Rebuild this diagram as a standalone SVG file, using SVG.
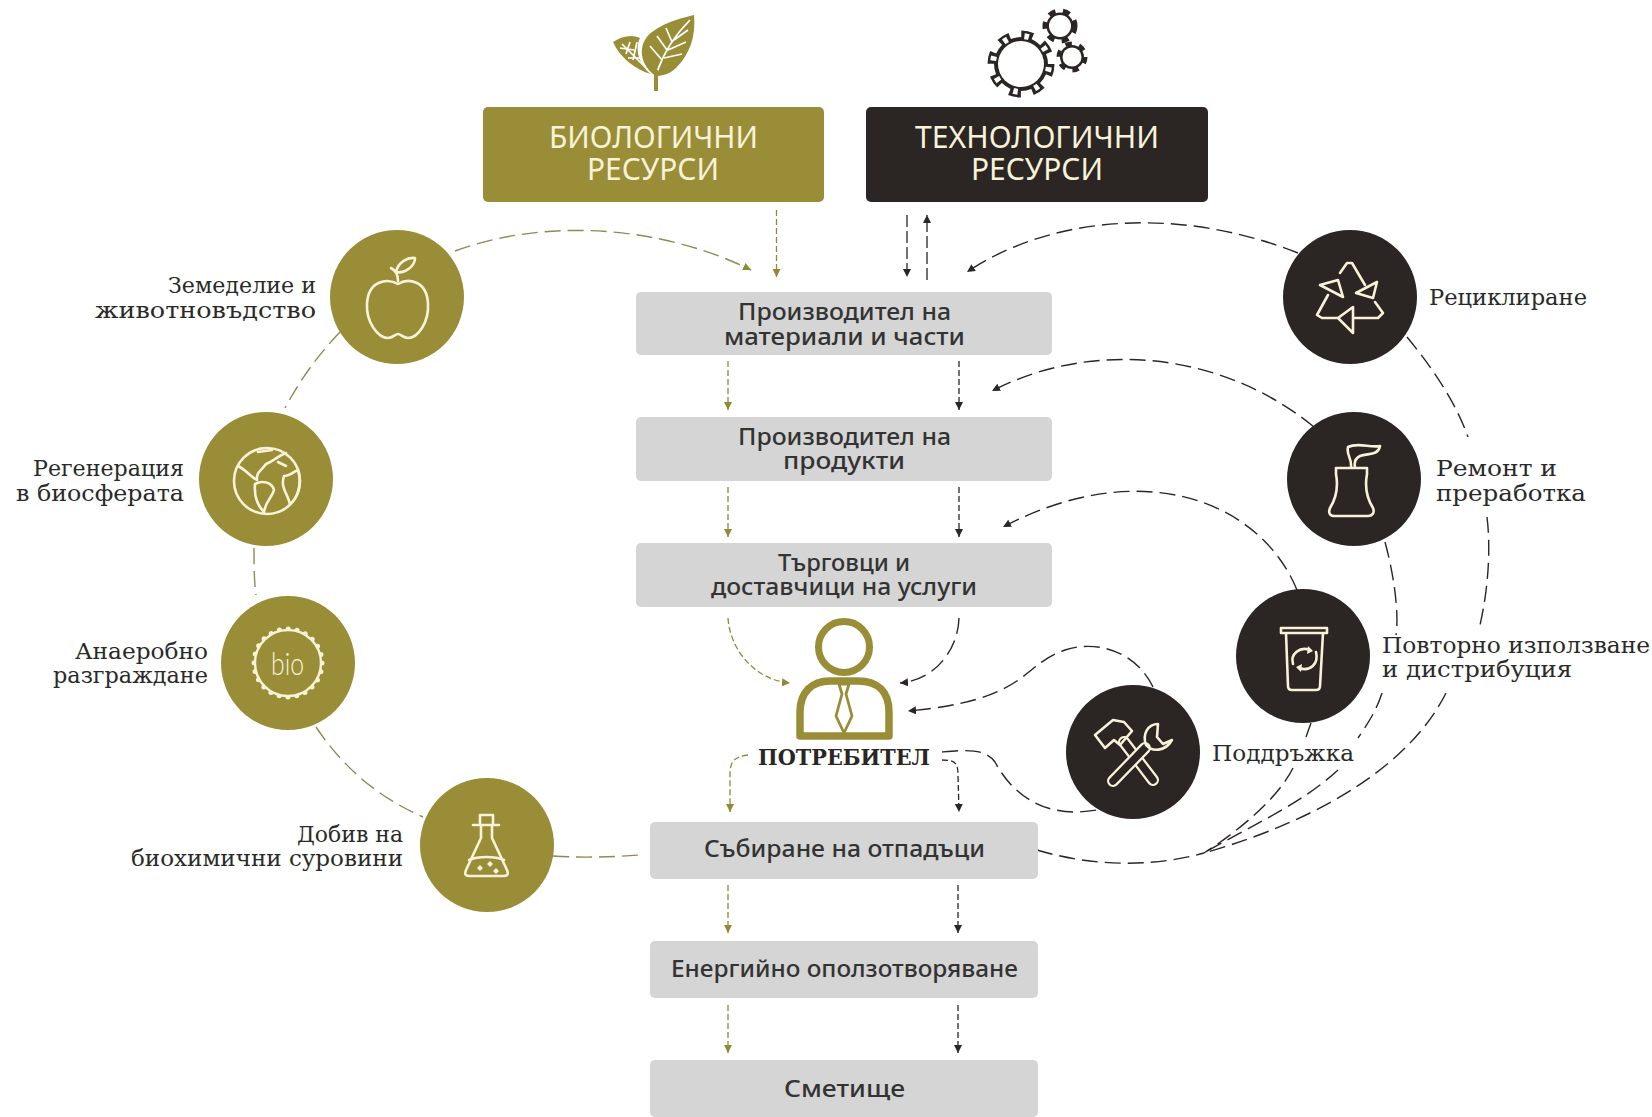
<svg xmlns="http://www.w3.org/2000/svg" width="1652" height="1117" viewBox="0 0 1652 1117" lang="bg">
<style>
.bg{fill:#fff}
.grey{fill:#d5d5d5}
.ol{fill:#9a8d37}
.dk{fill:#2b2523}
.head{font-family:"Noto Sans","Liberation Sans",sans-serif;font-size:31px;fill:#f7f2d8}
.box{font-family:"Noto Sans","Liberation Sans",sans-serif;font-size:23px;font-weight:500;fill:#333}
.lab{font-family:"DejaVu Serif","Liberation Serif",serif;font-size:22px;fill:#2a2a2a}
.cons{font-family:"DejaVu Serif","Liberation Serif",serif;font-size:22px;font-weight:700;fill:#2b2523}
.ic{fill:none;stroke:#f7f2d8;stroke-width:2.6;stroke-linejoin:round;stroke-linecap:round}
.cb{fill:none;stroke:#8e8a55;stroke-width:1.4;stroke-dasharray:16 7}
.cd{fill:none;stroke:#2b2523;stroke-width:1.4;stroke-dasharray:16 7}
.sb{fill:none;stroke:#8e8a35;stroke-width:1.3;stroke-dasharray:6 3}
.sd{fill:none;stroke:#2b2523;stroke-width:1.3;stroke-dasharray:6 3}
.ld{stroke-dasharray:12 4}
</style>
<defs>
<marker id="ab" markerUnits="userSpaceOnUse" markerWidth="10" markerHeight="10" refX="8" refY="4" orient="auto"><path d="M0,0L8,4L0,8z" fill="#8e8a35"/></marker>
<marker id="ad" markerUnits="userSpaceOnUse" markerWidth="10" markerHeight="10" refX="8" refY="4" orient="auto"><path d="M0,0L8,4L0,8z" fill="#2b2523"/></marker>
</defs>
<rect class="bg" width="1652" height="1117"/>

<g id="connectors">
<path class="cb" d="M455,251C545,218 660,225 751,270" marker-end="url(#ab)"/>
<path class="sb" d="M776.500,210V277" marker-end="url(#ab)"/>
<path class="sd ld" d="M907,215V277" marker-end="url(#ad)"/>
<path class="sd ld" d="M927,280V215" marker-end="url(#ad)"/>
<path class="cd" d="M1298,253C1190,210 1060,210 967,272" marker-end="url(#ad)"/>
<path class="cd" d="M1314,427C1220,350 1090,340 992,391" marker-end="url(#ad)"/>
<path class="cd" d="M1297,590C1260,500 1140,455 1003,527" marker-end="url(#ad)"/>
<path class="sb" d="M728,361V410" marker-end="url(#ab)"/>
<path class="sd" d="M959,361V410" marker-end="url(#ad)"/>
<path class="sb" d="M728,487V537" marker-end="url(#ab)"/>
<path class="sd" d="M959,487V537" marker-end="url(#ad)"/>
<path class="sb" d="M728,618C730,650 755,680 790,683" marker-end="url(#ab)"/>
<path class="cd" d="M959,618C958,650 935,680 900,683" marker-end="url(#ad)"/>
<path class="cd" d="M1153,687C1135,650 1095,640 1065,650C1020,665 1030,700 908,711" marker-end="url(#ad)"/>
<path class="cd" d="M942,752C965,750 985,748 995,762C1010,790 1040,820 1097,810"/>
<path class="sb" d="M748,755C735,757 730,760 730,775V812" marker-end="url(#ab)"/>
<path class="sd" d="M942,760C955,760 958,763 958,775L959,812" marker-end="url(#ad)"/>
<path class="sb" d="M728,885V933" marker-end="url(#ab)"/>
<path class="sd" d="M958,885V933" marker-end="url(#ad)"/>
<path class="sb" d="M728,1005V1053" marker-end="url(#ab)"/>
<path class="sd" d="M958,1005V1053" marker-end="url(#ad)"/>
<path class="cb" d="M340,332C318,355 300,380 285,408"/>
<path class="cb" d="M254,548C254,565 254,580 256,595"/>
<path class="cb" d="M316,727C345,770 380,798 423,817"/>
<path class="cb" d="M553,856C585,858 610,857 640,855"/>
<path class="cd" d="M1037,850C1090,866 1150,868 1204,853"/>
<path class="cd" d="M1311,723L1306,737M1293,768C1278,798 1240,830 1204,853"/>
<path class="cd" d="M1385,542C1398,590 1398,625 1396,635"/>
<path class="cd" d="M1382,693C1376,712 1366,726 1358,738M1338,770C1300,805 1250,826 1204,853"/>
<path class="cd" d="M1407,337C1430,365 1455,400 1468,437"/>
<path class="cd" d="M1487,517C1491,550 1488,590 1480,625"/>
<path class="cd" d="M1446,693C1410,765 1320,820 1204,853"/>
</g>

<g id="icon-leaf">
<path d="M656,76C640,66 636,44 652,32C668,20 684,18 694,15C696,36 690,54 676,68C670,74 662,76 656,76Z" fill="#9a8d37"/>
<path d="M651,74C636,70 620,58 613,42C622,36 632,34 640,38C634,50 640,66 651,74Z" fill="#9a8d37"/>
<path d="M657,72C664,52 676,34 690,20M662,60L650,46M667,50L657,36M672,42L666,28M664,58L682,54M668,50L686,42M674,40L688,30M622,44L644,66M630,42L626,54M637,42L633,60M620,48L634,50M628,58L640,58" fill="none" stroke="#fff" stroke-width="1.700"/>
<path d="M656,70V91" fill="none" stroke="#9a8d37" stroke-width="4"/>
</g>
<g id="icon-gears" fill="none">
<circle cx="1021" cy="64" r="28" stroke="#2b2523" stroke-width="11" stroke-dasharray="11 11"/>
<circle cx="1021" cy="64" r="27" fill="#2b2523"/>
<circle cx="1021" cy="64" r="28" stroke="#fff" stroke-width="6" stroke-dasharray="4.500 17.490" stroke-dashoffset="-3.250"/>
<circle cx="1021" cy="64" r="23" fill="#fff"/>
<circle cx="1060" cy="26" r="14" stroke="#2b2523" stroke-width="7" stroke-dasharray="6.600 7.060"/>
<circle cx="1060" cy="26" r="13.500" fill="#2b2523"/>
<circle cx="1060" cy="26" r="11" fill="#fff"/>
<circle cx="1072" cy="57" r="12.500" stroke="#2b2523" stroke-width="6" stroke-dasharray="6 7.090"/>
<circle cx="1072" cy="57" r="12" fill="#2b2523"/>
<circle cx="1072" cy="57" r="9.500" fill="#fff"/>
</g>

<g id="res-bio">
<rect class="ol" x="483" y="107" width="341" height="95" rx="5"/>
<text class="head"><tspan x="549" y="148" textLength="209" lengthAdjust="spacingAndGlyphs">БИОЛОГИЧНИ</tspan><tspan x="587" y="180" textLength="132" lengthAdjust="spacingAndGlyphs">РЕСУРСИ</tspan></text>
</g>
<g id="res-tech">
<rect class="dk" x="866" y="107" width="342" height="95" rx="5"/>
<text class="head"><tspan x="915" y="148" textLength="244" lengthAdjust="spacingAndGlyphs">ТЕХНОЛОГИЧНИ</tspan><tspan x="971" y="180" textLength="132" lengthAdjust="spacingAndGlyphs">РЕСУРСИ</tspan></text>
</g>

<g id="box-materials">
<rect class="grey" x="636" y="292" width="416" height="63" rx="5"/>
<text class="box"><tspan x="738" y="320" textLength="213" lengthAdjust="spacingAndGlyphs">Производител на</tspan><tspan x="724" y="345" textLength="241" lengthAdjust="spacingAndGlyphs">материали и части</tspan></text>
</g>
<g id="box-products">
<rect class="grey" x="636" y="417" width="416" height="64" rx="5"/>
<text class="box"><tspan x="738" y="445" textLength="213" lengthAdjust="spacingAndGlyphs">Производител на</tspan><tspan x="783" y="469" textLength="122" lengthAdjust="spacingAndGlyphs">продукти</tspan></text>
</g>
<g id="box-traders">
<rect class="grey" x="636" y="543" width="416" height="64" rx="5"/>
<text class="box"><tspan x="778" y="571" textLength="132" lengthAdjust="spacingAndGlyphs">Търговци и</tspan><tspan x="711" y="595" textLength="266" lengthAdjust="spacingAndGlyphs">доставчици на услуги</tspan></text>
</g>
<g id="box-waste">
<rect class="grey" x="650" y="822" width="388" height="57" rx="5"/>
<text class="box" x="704" y="857" textLength="281" lengthAdjust="spacingAndGlyphs">Събиране на отпадъци</text>
</g>
<g id="box-energy">
<rect class="grey" x="650" y="941" width="388" height="57" rx="5"/>
<text class="box" x="671" y="977" textLength="347" lengthAdjust="spacingAndGlyphs">Енергийно оползотворяване</text>
</g>
<g id="box-landfill">
<rect class="grey" x="650" y="1060" width="388" height="57" rx="5"/>
<text class="box" x="784" y="1097" textLength="121" lengthAdjust="spacingAndGlyphs">Сметище</text>
</g>

<g id="consumer">
<circle cx="844" cy="647" r="25.500" fill="none" stroke="#9a8d37" stroke-width="7"/>
<path d="M800,736V712C800,692 812,681 830,681H858C878,681 889,692 889,712V736Z" fill="none" stroke="#9a8d37" stroke-width="7.500" stroke-linejoin="round"/>
<path d="M839,684H849L846,694L852,716L844,733L836,716L842,694Z" fill="#fff" stroke="#9a8d37" stroke-width="2.800" stroke-linejoin="round"/>
<text class="cons" x="758" y="765" textLength="172" lengthAdjust="spacingAndGlyphs">ПОТРЕБИТЕЛ</text>
</g>

<g id="node-apple">
<circle class="ol" cx="397" cy="297" r="67"/>
<path class="ic" d="M398,284C388,278 368,280 367,304C366,322 378,338 388,338C393,338 395,334 398,334C401,334 403,338 408,338C418,338 429,322 428,304C427,280 408,278 398,284ZM398,281C398,274 395,270 391,268M396,272C398,262 408,257 415,258C415,266 405,274 396,272Z"/>
<text class="lab"><tspan x="168" y="293" textLength="148" lengthAdjust="spacingAndGlyphs">Земеделие и</tspan><tspan x="95" y="318" textLength="221" lengthAdjust="spacingAndGlyphs">животновъдство</tspan></text>
</g>
<g id="node-globe">
<circle class="ol" cx="266" cy="479" r="67"/>
<circle class="ic" cx="267" cy="481" r="33"/>
<path class="ic" stroke-width="2.200" d="M238,466C246,470 250,476 257,480C256,472 262,470 266,464C272,462 278,456 286,453M255,484C262,480 272,482 274,490C272,498 266,500 264,512C258,506 254,496 255,484ZM284,476C290,476 296,470 298,470C302,484 298,498 290,504C288,494 280,488 284,476ZM258,452L272,450M278,462L286,466"/>
<text class="lab"><tspan x="33" y="476" textLength="151" lengthAdjust="spacingAndGlyphs">Регенерация</tspan><tspan x="16" y="501" textLength="168" lengthAdjust="spacingAndGlyphs">в биосферата</tspan></text>
</g>
<g id="node-bio">
<circle class="ol" cx="288" cy="663" r="67"/>
<circle cx="288" cy="663" r="34" fill="none" stroke="#f7f2d8" stroke-width="5" stroke-dasharray="0 8.900" stroke-linecap="round"/>
<circle cx="288" cy="663" r="33" fill="#9a8d37" stroke="#f7f2d8" stroke-width="2.400"/>
<text x="271" y="675" font-family="Lato,'Open Sans',sans-serif" font-weight="300" font-size="31" fill="#f7f2d8" textLength="33" lengthAdjust="spacingAndGlyphs">bio</text>
<text class="lab"><tspan x="75" y="659" textLength="133" lengthAdjust="spacingAndGlyphs">Анаеробно</tspan><tspan x="53" y="683" textLength="155" lengthAdjust="spacingAndGlyphs">разграждане</tspan></text>
</g>
<g id="node-flask">
<circle class="ol" cx="487" cy="845" r="67"/>
<path class="ic" d="M480,815H493V825M480,815V825M473,825H499M481,825V838L466,870C464,875 466,876 470,876H503C507,876 509,875 507,870L492,838V825M469,860C478,856 495,856 504,860"/>
<path d="M477,868l3,-3 3,3 -3,3zM487,864l3,-3 3,3 -3,3zM493,871l3,-3 3,3 -3,3z" fill="#f7f2d8"/>
<text class="lab"><tspan x="297" y="842" textLength="106" lengthAdjust="spacingAndGlyphs">Добив на</tspan><tspan x="131" y="866" textLength="272" lengthAdjust="spacingAndGlyphs">биохимични суровини</tspan></text>
</g>

<g id="node-recycle">
<circle class="dk" cx="1350" cy="297" r="67"/>
<path class="ic" d="M1377,282L1356,293L1373,298ZM1340,273L1347,263H1352L1365,285M1320,285L1338,280L1343,297ZM1328,295L1317,315L1322,318H1337M1338,318L1353,307V333ZM1353,318H1378L1383,313L1375,302"/>
<text class="lab" x="1429" y="305" textLength="158" lengthAdjust="spacingAndGlyphs">Рециклиране</text>
</g>
<g id="node-plant">
<circle class="dk" cx="1354" cy="479" r="67"/>
<path class="ic" d="M1336,468H1367V474C1364,490 1368,500 1373,508C1375,513 1372,516 1368,516H1334C1330,516 1328,513 1330,508C1335,500 1339,490 1336,474ZM1351,467C1352,458 1346,455 1348,447C1358,442 1370,448 1380,446C1378,456 1368,453 1360,456C1356,458 1354,462 1355,467"/>
<text class="lab"><tspan x="1436" y="476" textLength="121" lengthAdjust="spacingAndGlyphs">Ремонт и</tspan><tspan x="1436" y="501" textLength="150" lengthAdjust="spacingAndGlyphs">преработка</tspan></text>
</g>
<g id="node-bin">
<circle class="dk" cx="1303" cy="656" r="67"/>
<path class="ic" d="M1281,633V628H1327V633ZM1286,633L1288,686C1288,689 1290,690 1292,690H1316C1318,690 1320,689 1320,686L1323,633M1293,664C1290,654 1300,646 1310,650M1316,652C1319,664 1310,672 1299,668"/>
<path d="M1308,646l5,5 -6,3zM1301,672l-5,-5 6,-3z" fill="#f7f2d8"/>
<text class="lab"><tspan x="1382" y="653" textLength="268" lengthAdjust="spacingAndGlyphs">Повторно използване</tspan><tspan x="1382" y="677" textLength="190" lengthAdjust="spacingAndGlyphs">и дистрибуция</tspan></text>
</g>
<g id="node-tools">
<circle class="dk" cx="1133" cy="752" r="67"/>
<path d="M1124,742L1153,780" stroke="#f7f2d8" stroke-width="12" stroke-linecap="round" fill="none"/>
<path d="M1124,742L1153,780" stroke="#2b2523" stroke-width="7.500" stroke-linecap="round" fill="none"/>
<path d="M1145,748L1113,781" stroke="#f7f2d8" stroke-width="12" stroke-linecap="round" fill="none"/>
<path d="M1145,748L1113,781" stroke="#2b2523" stroke-width="7.500" stroke-linecap="round" fill="none"/>
<path class="ic" d="M1095,735L1113,720L1124,722L1132,731L1120,745L1114,740L1105,748ZM1158,724C1148,724 1142,734 1146,745C1152,752 1165,752 1172,740L1163,744L1157,737Z"/>
<text class="lab" x="1212" y="761" textLength="142" lengthAdjust="spacingAndGlyphs">Поддръжка</text>
</g>
</svg>
